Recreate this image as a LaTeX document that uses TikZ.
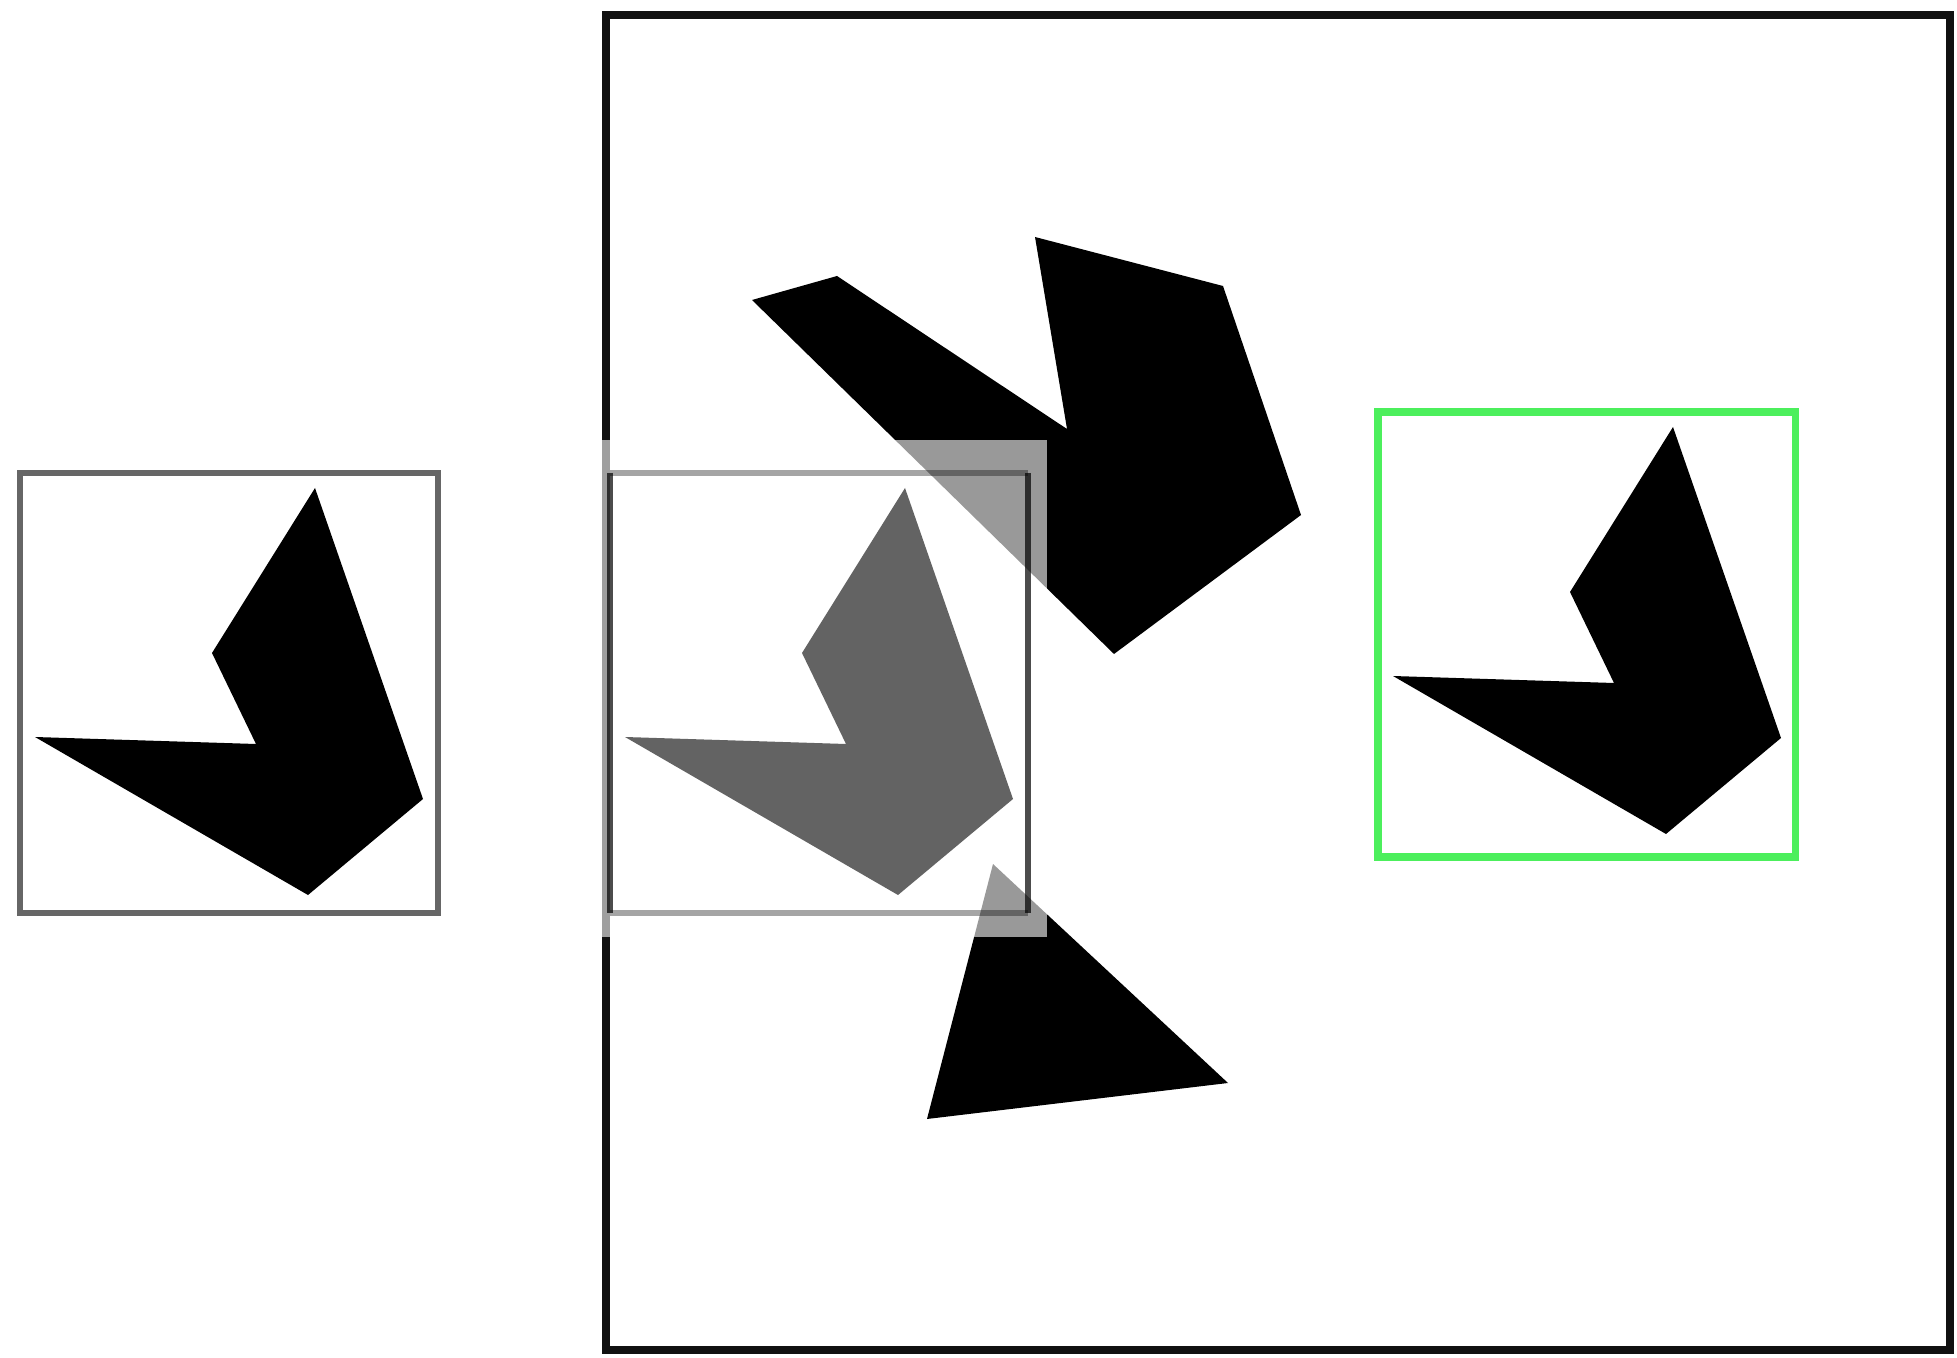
\documentclass[tikz,border=0pt]{standalone}
\usepackage{xcolor,tikz}
\definecolor{ink}{HTML}{111111}
\definecolor{cropgray}{HTML}{666666}
\definecolor{ghost}{HTML}{636363}
\definecolor{hit}{HTML}{4CEF5C}
\tikzset{dart/.pic={\path[pic actions] (295,15)--(403,326)--(288,422)--(15,264)--(236,271)--(192,180)--cycle;}, frame/.style={draw=ink,line width=2.1pt}, crop/.style={draw=cropgray,line width=1.6pt}, hitbox/.style={draw=hit,line width=2pt}, veil/.style={fill=white,opacity=0.6}}

\begin{document}
\begin{tikzpicture}[x=0.01cm,y=-0.01cm]
\useasboundingbox (0,0) rectangle (1957,1358);
% template on the left
\draw[crop] (20,473) rectangle (438,913);
\pic[fill=black] at (20,473) {dart};
% scene
\draw[frame] (606,15) rectangle (1950,1350);
\fill[black] (752,300)--(837,276)--(1067,429)--(1035,237)--(1223,286)--(1301,515)--(1114,654)--cycle;
\fill[black] (993,864)--(1228,1083)--(927,1119)--cycle;
% sliding window
\fill[veil] (595,440) rectangle (1047,937);
\draw[black,opacity=0.35,line width=1.6pt] (610,473)--(1028,473) (610,913)--(1028,913);
\draw[black,opacity=0.7,line width=1.6pt] (610,473)--(610,913) (1028,473)--(1028,913);
\pic[fill=ghost] at (610,473) {dart};
% match
\draw[hitbox] (1378,412) rectangle (1795,857);
\pic[fill=black] at (1378,412) {dart};
\end{tikzpicture}
\end{document}
